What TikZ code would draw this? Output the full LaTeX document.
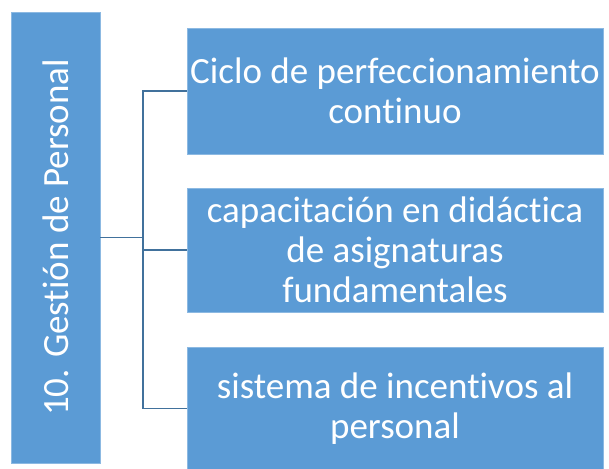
\documentclass[tikz,border=0pt]{standalone}
\usepackage{fontspec}
\setmainfont{Carlito}[Ligatures=NoCommon]
\definecolor{boxblue}{HTML}{5B9BD5}
\definecolor{lineblue}{HTML}{41719C}
\tikzset{
  box/.style={fill=boxblue, draw=boxblue!70!white, line width=0.4pt, text=white, align=center,
    font=\fontsize{37}{40}\selectfont, inner sep=0pt},
  link/.style={draw=lineblue, line width=1.5pt}
}
\begin{document}
\begin{tikzpicture}[x=1pt, y=-1pt]
\useasboundingbox (0,0) rectangle (609,468);
%% left box
\node[box, minimum width=89pt, minimum height=451pt] (gp) at (55.5,237.5) {};
\node[rotate=90, text=white, font=\fontsize{37}{40}\selectfont] (gplabel) at (gp.center) {10. Gestión de Personal};
%% right boxes
\node[box, minimum width=416pt, minimum height=126pt] (b1) at (395,91) {Ciclo de perfeccionamiento\\continuo};
\node[box, minimum width=416pt, minimum height=124pt] (b2) at (395,250) {capacitación en didáctica\\de asignaturas\\fundamentales};
\node[box, minimum width=416pt, minimum height=123pt] (b3) at (395,408.5) {sistema de incentivos al\\personal};
%% connectors
\coordinate (j) at (143,237.5);
\draw[link] (gp.east) -- (j);
\draw[link] (b1.west) -| (j) |- (b3.west);
\draw[link] (j |- b2.west) -- (b2.west);
\end{tikzpicture}
\end{document}
